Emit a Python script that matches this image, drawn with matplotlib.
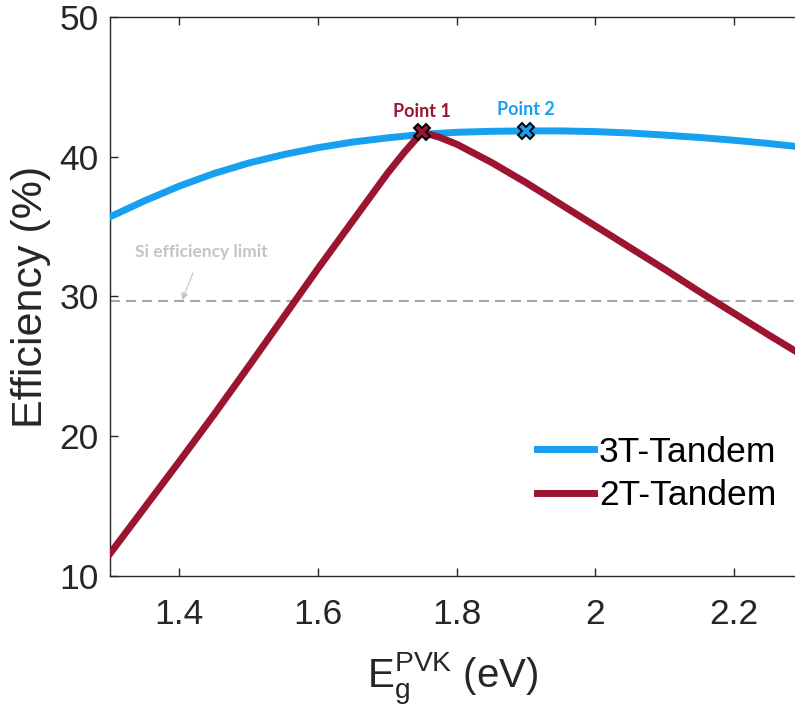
import matplotlib
matplotlib.use("Agg")
import matplotlib.pyplot as plt

# bandgap of the perovskite top cell (eV)
eg_3t = [1.30, 1.35, 1.40, 1.45, 1.50, 1.55, 1.60, 1.65, 1.70, 1.75,
         1.80, 1.85, 1.90, 1.95, 2.00, 2.05, 2.10, 2.15, 2.20, 2.25, 2.30]
eff_3t = [35.7, 36.85, 37.9, 38.8, 39.55, 40.15, 40.65, 41.05, 41.35, 41.6,
          41.75, 41.82, 41.85, 41.85, 41.8, 41.7, 41.55, 41.38, 41.18, 40.95, 40.68]

eg_2t = [1.30, 1.35, 1.40, 1.45, 1.50, 1.55, 1.60, 1.65, 1.70, 1.725, 1.75,
         1.775, 1.80, 1.85, 1.90, 1.95, 2.00, 2.05, 2.10, 2.15, 2.20, 2.25, 2.30]
eff_2t = [11.6, 14.9, 18.2, 21.55, 25.0, 28.5, 32.0, 35.4, 38.8, 40.35, 41.75,
          41.4, 40.9, 39.6, 38.15, 36.6, 35.05, 33.5, 31.95, 30.35, 28.8, 27.25, 25.75]

si_limit = 29.7

points_x = [1.75, 1.90]
points_y = [41.75, 41.85]
point_names = ["Point 1", "Point 2"]

blue = "#18a0f0"
red = "#9b1531"
dark = "#262626"

plt.rcParams["font.family"] = ["Liberation Sans", "DejaVu Sans"]
plt.rcParams["mathtext.fontset"] = "custom"
plt.rcParams["mathtext.rm"] = "Liberation Sans"

fig = plt.figure(figsize=(7.95, 7.13), dpi=100)
ax = fig.add_axes([110 / 795, 1 - 576 / 713, 1 - 110 / 795, (576 - 17) / 713])

ax.axhline(si_limit, color="#a6a6a6", lw=1.5, dashes=(4.8, 2.9), zorder=1)

ax.plot(eg_3t, eff_3t, color=blue, lw=5, label="3T-Tandem", zorder=3)
ax.plot(eg_2t, eff_2t, color=red, lw=5, label="2T-Tandem", zorder=3)

for px, py, name, c in zip(points_x, points_y, point_names, [red, blue]):
    ax.plot(px, py, marker="X", ms=11.5, mfc=c, mec="black", mew=1.4,
            ls="none", zorder=5)
    ax.annotate(name, (px, py), xytext=(0, 9), textcoords="offset points",
                ha="center", va="bottom", color=c, fontsize=13,
                fontweight="bold", family=["Lato", "DejaVu Sans"])

ax.annotate("Si efficiency limit", xy=(1.404, si_limit + 0.05),
            xytext=(1.432, 33.2), ha="center", va="center",
            color="#c4c4c4", fontsize=12.5, fontweight="bold",
            family=["Lato", "DejaVu Sans"],
            arrowprops=dict(arrowstyle="-|>", color="#c4c4c4", lw=0.8,
                            mutation_scale=10, shrinkA=8, shrinkB=0))

ax.set_xlim(1.3, 2.288)
ax.set_ylim(10, 50)
ax.set_xticks([1.4, 1.6, 1.8, 2.0, 2.2])
ax.set_xticklabels(["1.4", "1.6", "1.8", "2", "2.2"])
ax.set_yticks([10, 20, 30, 40, 50])

ax.tick_params(direction="in", length=6, width=1, colors=dark,
               labelsize=25.5, top=True, right=False)
ax.tick_params(axis="x", pad=16)
ax.tick_params(axis="y", pad=8)

for side in ["left", "bottom", "top"]:
    ax.spines[side].set_color(dark)
    ax.spines[side].set_linewidth(1)
ax.spines["right"].set_visible(False)

ax.set_ylabel("Efficiency (%)", fontsize=31, color=dark, labelpad=6)
ax.set_xlabel(r"$\mathregular{E_g^{PVK}}$ (eV)", fontsize=29, color=dark,
              labelpad=14)

ax.legend(loc="center left", bbox_to_anchor=(537 / 795, 1 - 474 / 713),
          bbox_transform=fig.transFigure, frameon=False, fontsize=25.5,
          handlelength=1.6, handletextpad=0.15, labelspacing=0.3,
          borderpad=0, borderaxespad=0)

fig.savefig("out.png", dpi=100)
